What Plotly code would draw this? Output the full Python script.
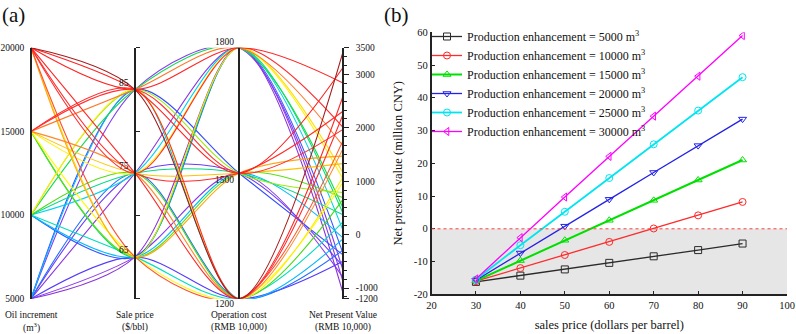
import plotly.graph_objects as go
from plotly.colors import sample_colorscale

# ---------------- Panel (a) data ----------------
axis_names = ["Oil increment", "Sale price", "Operation cost", "Net Present Value"]
axis_units = ["(m<sup>3</sup>)", "($/bbl)", "(RMB 10,000)", "(RMB 10,000)"]
oil_levels = [5000, 10000, 15000, 20000]
price_levels = [65, 75, 85]
cost_levels = [1200, 1500, 1800]
# npv_values[oil][price][cost]  (RMB 10,000)
npv_values = [
    [[-500, -800, -1090], [-290, -590, -880], [-80, -380, -670]],
    [[240, -60, -350], [660, 370, 80], [1080, 790, 500]],
    [[980, 690, 400], [1610, 1330, 1040], [2250, 1970, 1660]],
    [[1760, 1470, 1160], [2590, 2310, 2010], [3420, 3130, 2840]],
]
oil_range = [5000, 20000]
price_range = [60, 90]
cost_range = [1200, 1800]
npv_range = [-1200, 3500]
oil_ticks = [5000, 10000, 15000, 20000]
price_ticks = [60, 70, 80, 90]
npv_ticks = [3500, 3000, 2000, 1000, 0, -1000, -1200]

# ---------------- Panel (b) data ----------------
sales_price = [30, 40, 50, 60, 70, 80, 90]
enhancement = [5000, 10000, 15000, 20000, 25000, 30000]
npv_5000 = [-16.2, -14.3, -12.4, -10.4, -8.4, -6.5, -4.5]
npv_10000 = [-16.0, -12.0, -8.0, -4.0, 0.1, 4.1, 8.2]
npv_15000 = [-15.9, -9.7, -3.5, 2.6, 8.7, 14.9, 21.0]
npv_20000 = [-15.7, -7.4, 0.8, 9.0, 17.2, 25.4, 33.5]
npv_25000 = [-15.5, -5.0, 5.2, 15.5, 25.8, 36.1, 46.3]
npv_30000 = [-15.3, -2.7, 9.7, 22.1, 34.4, 46.6, 59.0]
series_b = [npv_5000, npv_10000, npv_15000, npv_20000, npv_25000, npv_30000]
colors_b = ["#2b2b2b", "#ff2a2a", "#00e000", "#2222e6", "#00e5f0", "#ff00ff"]
symbols_b = ["square-open", "circle-open", "triangle-up-open", "triangle-down-open",
             "circle-open", "triangle-left-open"]
widths_b = [1.3, 1.3, 2.0, 1.3, 1.8, 1.3]

FONT = "Liberation Serif"
W, H = 796, 334

lo, hi = npv_range
def sv(v):
    return (v - lo) / (hi - lo)
npv_scale = [
    [sv(-1200), "#8a2fd0"], [sv(-700), "#8c3cf0"], [sv(-420), "#3c3cff"],
    [sv(-100), "#00b4ff"], [sv(150), "#00e0e6"], [sv(400), "#00dc78"],
    [sv(650), "#40dc10"], [sv(950), "#ffff00"], [sv(1300), "#ffc800"],
    [sv(1600), "#ff8c28"], [sv(1850), "#ff3232"], [sv(3150), "#ff2020"],
    [sv(3500), "#8b1a1a"],
]

fig = go.Figure()

# geometry of panel (a)
ax_x0_px, ax_x3_px = 31.0, 343.0
ax_top_px, ax_bot_px = 47.7, 298.7
xr = [-0.05, 3.05]
step = (ax_x3_px - ax_x0_px) / 3
xdom = [(ax_x0_px + xr[0] * step) / W, (ax_x0_px + xr[1] * step) / W]
pdom = [1 - ax_bot_px / H, 1 - ax_top_px / H]
def xpos(i):
    return xdom[0] + (i - xr[0]) / (xr[1] - xr[0]) * (xdom[1] - xdom[0])

def norm(v, r):
    return (v - r[0]) / (r[1] - r[0])

records = []
for i, o in enumerate(oil_levels):
    for j, p in enumerate(price_levels):
        for k, c in enumerate(cost_levels):
            records.append((npv_values[i][j][k], o, p, c))
records.sort(key=lambda r: r[0])
for npv, o, p, c in records:
    col = sample_colorscale(npv_scale, [sv(npv)])[0]
    fig.add_trace(go.Scatter(
        x=[0, 1, 2, 3],
        y=[norm(o, oil_range), norm(p, price_range), norm(c, cost_range), norm(npv, npv_range)],
        mode="lines", line=dict(color=col, width=1.1, shape="spline", smoothing=0.9),
        xaxis="x", yaxis="y", showlegend=False, hoverinfo="skip"))

for idx, (ya, rng) in enumerate([("y3", oil_range), ("y4", price_range), ("y5", cost_range), ("y6", npv_range)]):
    fig.add_trace(go.Scatter(x=[idx, idx], y=rng, xaxis="x", yaxis=ya, mode="markers",
                             marker=dict(opacity=0), showlegend=False, hoverinfo="skip"))

# ---------------- Panel (b) traces ----------------
for s, col, sym, lw, q in zip(series_b, colors_b, symbols_b, widths_b, enhancement):
    fig.add_trace(go.Scatter(
        x=sales_price, y=s, xaxis="x2", yaxis="y2", mode="lines+markers",
        name=f"Production enhancement = {q} m<sup>3</sup>",
        line=dict(color=col, width=lw),
        marker=dict(symbol=sym, size=7, color=col, line=dict(width=1, color=col))))

axis_common = dict(showgrid=False, zeroline=False, fixedrange=True, automargin=False)
axline = dict(showline=True, linecolor="#222", linewidth=1.5)
tickfont_a = dict(family=FONT, size=9.5, color="#111")
cross = dict(ticks="outside", ticklen=4, tickwidth=1.3, tickcolor="#222")
npv_minor = dict(dtick=1000 / 6, tick0=0, ticks="outside", ticklen=3, tickwidth=1, tickcolor="#222")

layout = dict(
    width=W, height=H, margin=dict(l=0, r=0, t=0, b=0, autoexpand=False),
    template="none",
    paper_bgcolor="white", plot_bgcolor="rgba(0,0,0,0)",
    font=dict(family=FONT, color="#111"),
    showlegend=True,
    xaxis=dict(domain=xdom, range=xr, visible=False, anchor="y", **axis_common),
    yaxis=dict(domain=pdom, range=[0, 1], visible=False, anchor="x", **axis_common),
    yaxis3=dict(range=oil_range, anchor="free", overlaying="y", position=xpos(0), side="left",
                tickvals=oil_ticks, ticktext=[str(v) for v in oil_ticks], ticks="",
                tickfont=tickfont_a, ticklabelstandoff=4, **axline, **axis_common),
    yaxis4=dict(range=price_range, anchor="free", overlaying="y", position=xpos(1), side="right",
                tickvals=price_ticks, showticklabels=False, **cross, **axline, **axis_common),
    yaxis8=dict(range=price_range, anchor="free", overlaying="y", position=xpos(1), side="left",
                tickvals=price_ticks, showticklabels=False, showline=False, **cross, **axis_common),
    yaxis5=dict(range=cost_range, anchor="free", overlaying="y", position=xpos(2), side="right",
                ticks="", showticklabels=False, **axline, **axis_common),
    yaxis6=dict(range=npv_range, anchor="free", overlaying="y", position=xpos(3), side="right",
                tickvals=npv_ticks, ticktext=[str(v) for v in npv_ticks],
                ticks="outside", ticklen=5, tickwidth=1.3, tickcolor="#222", minor=npv_minor,
                tickfont=tickfont_a, ticklabelstandoff=5, **axline, **axis_common),
    yaxis7=dict(range=npv_range, anchor="free", overlaying="y", position=xpos(3), side="left",
                tickvals=npv_ticks, ticks="outside", ticklen=5, tickwidth=1.3, tickcolor="#222",
                minor=npv_minor, showticklabels=False, showline=False, **axis_common),
    xaxis2=dict(domain=[431.5 / W, 787.0 / W], range=[20, 100], anchor="y2",
                tickvals=list(range(20, 101, 10)), ticktext=[str(v) for v in range(20, 101, 10)],
                ticks="inside", ticklen=4, tickcolor="#222", tickwidth=1.2,
                tickfont=dict(family=FONT, size=10.5, color="#111"),
                title=dict(text="sales price (dollars per barrel)", font=dict(family=FONT, size=12.5), standoff=11),
                **axline, **axis_common),
    yaxis2=dict(domain=[1 - 294.3 / H, 1 - 32.3 / H], range=[-20, 60], anchor="x2",
                tickvals=list(range(-20, 61, 10)), ticktext=[str(v) for v in range(-20, 61, 10)],
                ticks="inside", ticklen=4, tickcolor="#222", tickwidth=1.2,
                tickfont=dict(family=FONT, size=10.5, color="#111"),
                title=dict(text="Net present value (million CNY)", font=dict(family=FONT, size=12.5), standoff=8),
                **axline, **axis_common),
    legend=dict(x=427 / W, y=1 - 22 / H, xanchor="left", yanchor="top", bgcolor="rgba(255,255,255,0)",
                font=dict(family=FONT, size=12, color="#111"), itemwidth=30, tracegroupgap=0,
                borderwidth=0),
    shapes=[
        dict(type="rect", xref="x2", yref="y2", x0=20, x1=100, y0=-20, y1=0,
             fillcolor="#e6e6e6", line=dict(width=0), layer="below"),
        dict(type="line", xref="x2", yref="y2", x0=20, x1=100, y0=0, y1=0,
             line=dict(color="#ff4040", width=1, dash="dot"), layer="above"),
    ],
)
fig.update_layout(**layout)

ann = []
ann.append(dict(text="(a)", x=0, y=1 - 15 / H, xref="paper", yref="paper", xanchor="left",
                yanchor="middle", showarrow=False, font=dict(family=FONT, size=21, color="#111")))
ann.append(dict(text="(b)", x=382 / W, y=1 - 15 / H, xref="paper", yref="paper", xanchor="left",
                yanchor="middle", showarrow=False, font=dict(family=FONT, size=21, color="#111")))
for i, (nm, un) in enumerate(zip(axis_names, axis_units)):
    ann.append(dict(text=nm, x=i, xref="x", y=1 - 314.5 / H, yref="paper", showarrow=False,
                    xanchor="center", yanchor="middle", font=dict(family=FONT, size=9.5, color="#111")))
    ann.append(dict(text=un, x=i, xref="x", y=1 - 327.5 / H, yref="paper", showarrow=False,
                    xanchor="center", yanchor="middle", font=dict(family=FONT, size=9.5, color="#111")))
for p in price_levels:
    ann.append(dict(text=str(p), x=1, xref="x", y=p, yref="y4", showarrow=False, xanchor="right",
                    yanchor="bottom", xshift=-4, yshift=0, font=dict(family=FONT, size=9.5, color="#111")))
cost_shift = {1200: -4.8, 1500: -6.5, 1800: 6.0}
for c in cost_levels:
    ann.append(dict(text=str(c), x=2, xref="x", y=c, yref="y5", showarrow=False, xanchor="right",
                    yanchor="middle", xshift=-3, yshift=cost_shift[c],
                    font=dict(family=FONT, size=9.5, color="#111")))
fig.update_layout(annotations=ann)

fig.write_html("out.html", config={"displayModeBar": False},
               post_script="document.body.style.margin='0';document.body.style.overflow='hidden';")
